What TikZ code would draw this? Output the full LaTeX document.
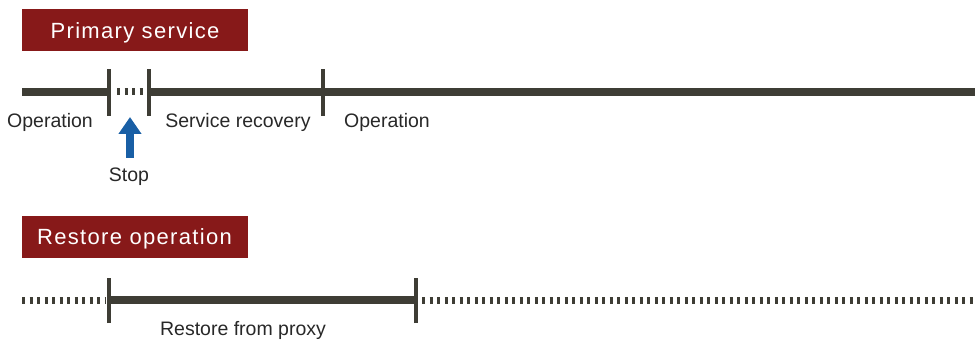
\documentclass[tikz,border=0pt]{standalone}
\usepackage{fontspec}
\setmainfont{Liberation Sans}
\newfontfamily\hdfont[LetterSpace=6]{Liberation Sans}
\usetikzlibrary{arrows.meta,positioning}
\definecolor{hdred}{RGB}{135,25,25}
\definecolor{tline}{RGB}{62,61,53}
\definecolor{stopblue}{RGB}{25,95,165}
\definecolor{lbltext}{RGB}{40,40,40}

\begin{document}
\begin{tikzpicture}[x=1pt, y=-1pt,
    header/.style={rectangle, fill=hdred, inner sep=0pt, minimum width=226pt, minimum height=42pt, text height=16pt, text depth=0pt, font=\hdfont\fontsize{22}{26}\selectfont, text=white},
    lbl/.style={font=\fontsize{19.5}{23}\selectfont, text=lbltext, inner sep=0pt},
    solidline/.style={tline, line width=8pt},
    dotline/.style={tline, line width=7pt, dash pattern=on 3pt off 4.5pt},
    tick/.style={tline, line width=4pt}
]
    \useasboundingbox (0,0) rectangle (975,342);

    % Primary service timeline
    \node[header] (prim) at (135, 30.5) {Primary service};

    \coordinate (p0) at (22, 92);
    \coordinate (p1) at (109, 92);
    \coordinate (p2) at (149, 92);
    \coordinate (p3) at (323, 92);
    \coordinate (p4) at (975, 92);

    \draw[solidline] (p0) -- (p1);
    \draw[dotline] ([xshift=8pt]p1) -- ([xshift=-4pt]p2);
    \draw[solidline] (p2) -- (p4);
    \foreach \t in {p1,p2,p3}
        \draw[tick] ([yshift=-24pt]\t) -- ([yshift=23pt]\t);

    \node[lbl] (op1) at (50, 122) {Operation};
    \node[lbl] (rec) at (238, 122) {Service recovery};
    \node[lbl] (op2) at (387, 122) {Operation};

    % Stop arrow
    \node[lbl] (stop) at (129, 177) {Stop};
    \coordinate (stoptip) at (130, 117);
    \draw[stopblue, line width=8pt, -{Triangle[width=22pt, length=17pt]}] (130, 158) -- (stoptip);

    % Restore operation timeline
    \node[header] (rest) at (134.5, 236.5) {Restore operation};

    \coordinate (r0) at (22, 300);
    \coordinate (r1) at (109, 300);
    \coordinate (r2) at (416, 300);
    \coordinate (r3) at (975, 300);

    \draw[dotline] (r0) -- ([xshift=-3pt]r1);
    \draw[solidline] (r1) -- (r2);
    \draw[dotline] ([xshift=6pt]r2) -- (r3);
    \foreach \t in {r1,r2}
        \draw[tick] ([yshift=-23pt]\t) -- ([yshift=22pt]\t);

    \node[lbl] (proxy) at (243, 330) {Restore from proxy};
\end{tikzpicture}
\end{document}
